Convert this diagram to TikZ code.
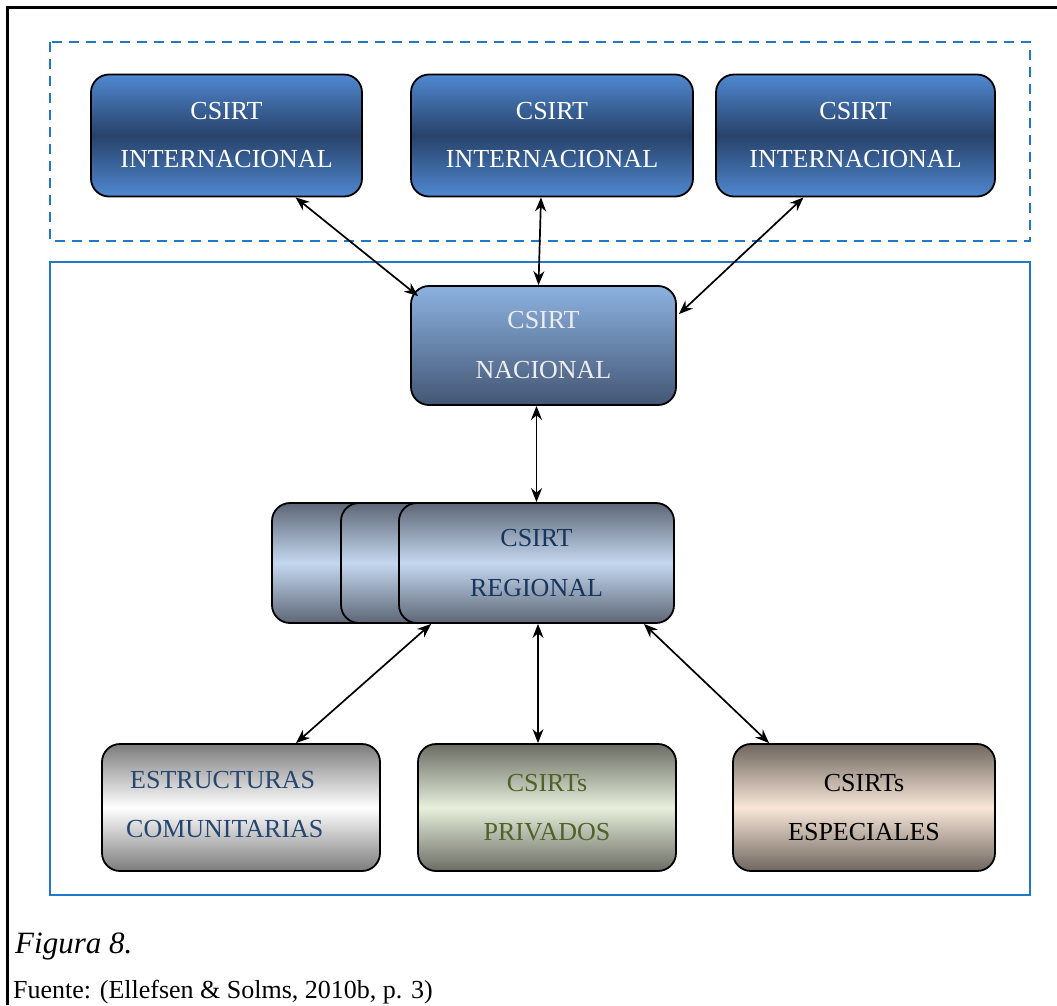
\documentclass[tikz,border=0pt]{standalone}
\usepackage{fontspec}
\setmainfont{Liberation Serif}
\usetikzlibrary{arrows.meta,calc}

\definecolor{frameblue}{HTML}{1F78C8}
\definecolor{intlight}{HTML}{5088D0}
\definecolor{intdark}{HTML}{27426A}
\definecolor{naclight}{HTML}{8CB2E0}
\definecolor{nacdark}{HTML}{435674}
\definecolor{nactext}{HTML}{EDEDED}
\definecolor{regdark}{HTML}{5D6676}
\definecolor{reglight}{HTML}{C5D8EF}
\definecolor{regtext}{HTML}{17365D}
\definecolor{estgrey}{HTML}{7C7C7C}
\definecolor{esttext}{HTML}{254670}
\definecolor{privdark}{HTML}{6A6D64}
\definecolor{privlight}{HTML}{E8EFDC}
\definecolor{privtext}{HTML}{4F6228}
\definecolor{espdark}{HTML}{6E665F}
\definecolor{esplight}{HTML}{F8E7D9}

\tikzset{
  box/.style={draw=black, line width=1.8pt, rounded corners=18pt,
    inner sep=0pt, align=center, font=\fontsize{26}{48}\selectfont},
  intbox/.style={box, minimum width=271pt, minimum height=122pt,
    top color=intlight, bottom color=intlight, middle color=intdark, text=white},
  link/.style={line width=1.7pt, {Stealth[length=14pt,width=11pt]}-{Stealth[length=14pt,width=11pt]}},
  group/.style={draw=frameblue, line width=1.8pt}
}

\begin{document}
\begin{tikzpicture}[x=1pt,y=-1pt]
  \useasboundingbox (0,0) rectangle (1057,1005);

  % page frame (top and left edges)
  \draw[line width=2.2pt] (1057,7.5) -- (7.5,7.5) -- (7.5,1005);

  % grouping frames
  \draw[group, dash pattern=on 10pt off 7pt] (50,42) rectangle (1030,241);
  \draw[group] (50,262) rectangle (1030,895);

  % international CSIRTs
  \node[intbox] (i1) at (226.5,135.5) {CSIRT\\INTERNACIONAL};
  \node[intbox, minimum width=282pt] (i2) at (552,135.5) {CSIRT\\INTERNACIONAL};
  \node[intbox, minimum width=279pt] (i3) at (855.5,135.5) {CSIRT\\INTERNACIONAL};

  % national CSIRT
  \node[box, minimum width=265pt, minimum height=119pt,
        top color=naclight, bottom color=nacdark, text=nactext, font=\fontsize{26}{50}\selectfont]
        (nac) at (543.5,345.5) {CSIRT\\NACIONAL};

  % stacked regional CSIRTs
  \node[box, minimum width=280pt, minimum height=120pt,
        top color=regdark, bottom color=regdark, middle color=reglight]
        (regc) at (412,563) {};
  \node[box, minimum width=280pt, minimum height=120pt,
        top color=regdark, bottom color=regdark, middle color=reglight]
        (regb) at (481,563) {};
  \node[box, minimum width=275pt, minimum height=120pt,
        top color=regdark, bottom color=regdark, middle color=reglight,
        text=regtext, font=\fontsize{26}{50}\selectfont]
        (reg) at (536.5,563) {CSIRT\\REGIONAL};

  % lower level
  \node[box, minimum width=278pt, minimum height=127pt,
        top color=estgrey, bottom color=estgrey, middle color=white,
        text=esttext, font=\fontsize{26}{49}\selectfont]
        (est) at (241,807.5) {};
  \node[anchor=west, align=left, text=esttext, inner sep=0pt,
        font=\fontsize{26}{49}\selectfont]
        (estt) at (126,805) {\hspace*{4pt}ESTRUCTURAS\\COMUNITARIAS};
  \node[box, minimum width=258pt, minimum height=127pt,
        top color=privdark, bottom color=privdark, middle color=privlight,
        text=privtext, font=\fontsize{26}{49}\selectfont]
        (priv) at (547,807.5) {CSIRTs\\PRIVADOS};
  \node[box, minimum width=262pt, minimum height=127pt,
        top color=espdark, bottom color=espdark, middle color=esplight,
        text=black, font=\fontsize{26}{49}\selectfont]
        (esp) at (864,807.5) {CSIRTs\\ESPECIALES};

  % connections
  \draw[link] ([xshift=69pt]i1.south) -- ([xshift=8pt,yshift=-11pt]nac.north west);
  \draw[link] ([xshift=-11pt]i2.south) -- ([xshift=-5pt]nac.north);
  \draw[link] ([xshift=-52pt]i3.south) -- ([xshift=2pt,yshift=-29pt]nac.north east);
  \draw[link] (nac.south -| reg.north) -- (reg.north);
  \draw[link] ([xshift=33pt]reg.south west) -- ([xshift=55pt]est.north);
  \draw[link] ([xshift=1.5pt]reg.south) -- ([xshift=1.5pt]reg.south |- priv.north);
  \draw[link] ([xshift=-31pt]reg.south east) -- ([xshift=37pt]esp.north west);

  % caption
  \node[anchor=base west, inner sep=0pt, font=\fontsize{31}{36}\selectfont\itshape]
    (cap) at (15,953) {Figura 8.};
  \node[anchor=base west, inner sep=0pt, font=\fontsize{26}{30}\selectfont]
    (src) at (13,998) {Fuente: (Ellefsen \& Solms, 2010b, p. 3)};
\end{tikzpicture}
\end{document}
